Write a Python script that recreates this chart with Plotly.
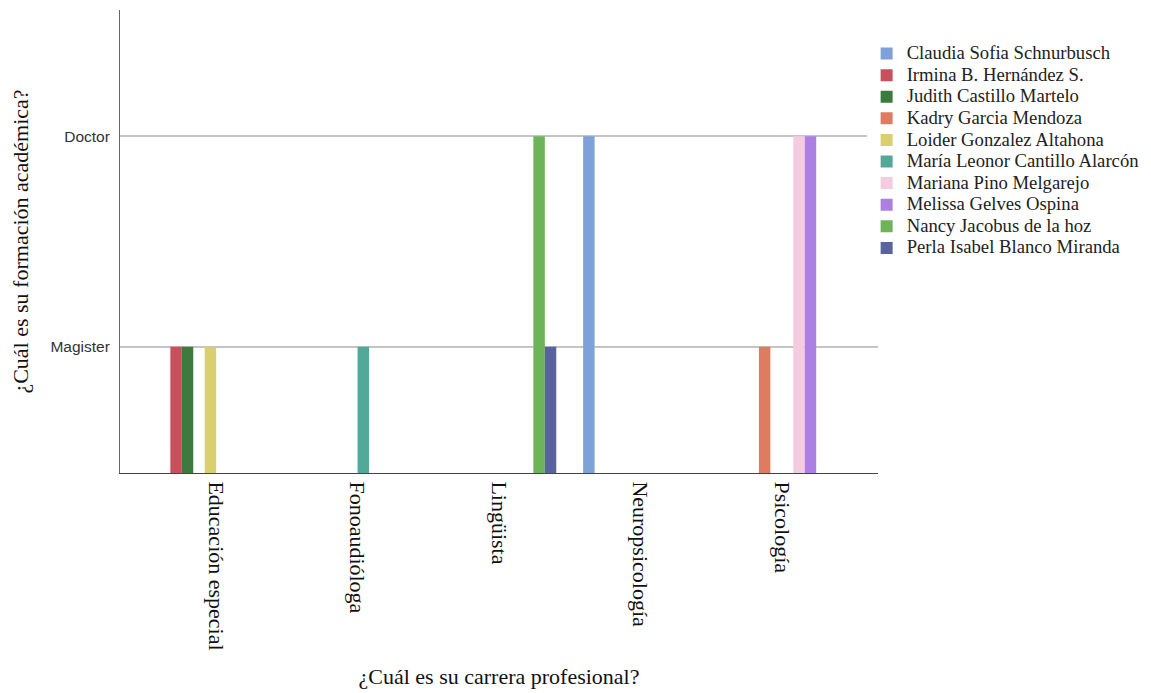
import plotly.graph_objects as go

categories = ["Educación especial", "Fonoaudióloga", "Lingüista", "Neuropsicología", "Psicología"]
levels = ["Magister", "Doctor"]
level_codes = [1, 2]

names = [
    "Claudia Sofia Schnurbusch",
    "Irmina B. Hernández S.",
    "Judith Castillo Martelo",
    "Kadry Garcia Mendoza",
    "Loider Gonzalez Altahona",
    "María Leonor Cantillo Alarcón",
    "Mariana Pino Melgarejo",
    "Melissa Gelves Ospina",
    "Nancy Jacobus de la hoz",
    "Perla Isabel Blanco Miranda",
]
# academic level per category (None = no bar)
claudia = [None, None, None, "Doctor", None]
irmina = ["Magister", None, None, None, None]
judith = ["Magister", None, None, None, None]
kadry = [None, None, None, None, "Magister"]
loider = ["Magister", None, None, None, None]
maria = [None, "Magister", None, None, None]
mariana = [None, None, None, None, "Doctor"]
melissa = [None, None, None, None, "Doctor"]
nancy = [None, None, "Doctor", None, None]
perla = [None, None, "Magister", None, None]

series = [claudia, irmina, judith, kadry, loider, maria, mariana, melissa, nancy, perla]
colors = ["#7ea1d8", "#c7505c", "#3c7a3e", "#df7b61", "#d9cf6f",
          "#52a99a", "#f5cbe0", "#ae7fe2", "#6cb35a", "#59639e"]

code = dict(zip(levels, level_codes))

fig = go.Figure()
for name, vals, col in zip(names, series, colors):
    fig.add_trace(go.Bar(
        name='<span style="font-size:18.7px">' + name + '</span>',
        x=categories,
        y=[code[v] if v else None for v in vals],
        marker=dict(color=col, line=dict(width=0)),
    ))

serif = "Liberation Serif, Times New Roman, serif"
fig.update_layout(
    width=1151, height=693,
    barmode="group", bargap=0.19, bargroupgap=0,
    plot_bgcolor="white", paper_bgcolor="white",
    margin=dict(l=112, r=281, t=2, b=228),
    legend=dict(x=0.985, y=0.94, xanchor="left", yanchor="top",
                font=dict(family=serif, size=14.3, color="#222"),
                itemwidth=30, tracegroupgap=0),
    xaxis=dict(
        type="category", range=[-0.68, 4.68],
        tickangle=90, tickfont=dict(family=serif, size=22, color="#111"),
        showline=True, linecolor="#444", linewidth=1, showgrid=False,
        ticks="", ticklen=0, ticklabelstandoff=3,
        title=dict(text="¿Cuál es su carrera profesional?", font=dict(family=serif, size=22, color="#111"),
                   standoff=18),
    ),
    yaxis=dict(
        range=[0.4, 2.6], tickvals=level_codes, ticktext=levels,
        tickfont=dict(family="Liberation Sans, Arial, sans-serif", size=15.5, color="#333"),
        showline=True, linecolor="#666", linewidth=1,
        showgrid=True, gridcolor="#c4c4c4", gridwidth=1.5, zeroline=False,
        ticks="", ticklabelstandoff=6,
        title=dict(text="¿Cuál es su formación académica?", font=dict(family=serif, size=22, color="#111"),
                   standoff=16),
    ),
)
fig.write_html("out.html")
